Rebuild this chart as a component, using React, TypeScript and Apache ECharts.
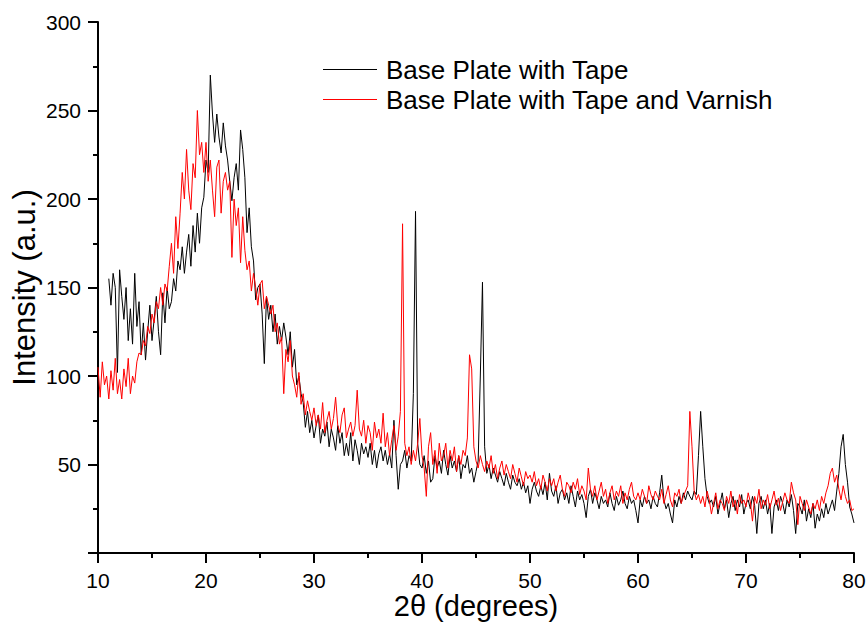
import React, { useEffect, useRef } from "react";
import * as echarts from "echarts";

const xStep = 0.2;
const redStart = 10.0;
const blackStart = 11.0;

const seriesNames = ["Base Plate with Tape", "Base Plate with Tape and Varnish"];

const xTicks = [10, 20, 30, 40, 50, 60, 70, 80];
const yTicks = [50, 100, 150, 200, 250, 300];

// Base Plate with Tape (black), 11.0 .. 80.0 step 0.2
const blackValues = [
  155, 140, 158, 150, 102, 160, 145, 132, 150, 120,
  138, 118, 158, 128, 142, 112, 130, 109, 125, 140,
  120, 132, 145, 125, 112, 147, 130, 150, 138, 142,
  155, 148, 165, 160, 173, 158, 170, 180, 162, 185,
  170, 192, 175, 195, 201, 222, 215, 270, 248, 232,
  248, 235, 226, 243, 230, 222, 210, 199, 212, 220,
  205, 239, 228, 212, 181, 195, 173, 165, 143, 150,
  152, 135, 107, 145, 132, 140, 125, 135, 118, 128,
  120, 130, 122, 112, 125, 105, 115, 95, 100, 90,
  85, 71, 80, 68, 75, 65, 72, 78, 62, 70,
  66, 74, 60, 70, 65, 58, 72, 62, 68, 55,
  62, 55, 68, 52, 64, 58, 50, 62, 56, 60,
  54, 62, 50, 58, 48, 56, 60, 52, 58, 50,
  56, 48, 75, 55, 36, 50, 52, 58, 48, 55,
  52, 90, 193, 62, 50, 48, 55, 45, 52, 40,
  42, 55, 48, 52, 45, 58, 50, 44, 55, 48,
  52, 46, 55, 42, 50, 48, 55, 45, 48, 40,
  46, 52, 100, 153, 60, 45, 50, 42, 48, 44,
  40, 46, 42, 38, 45, 40, 36, 44, 40, 38,
  42, 36, 40, 34, 38, 28, 36, 40, 35, 32,
  38, 33, 40, 30, 45, 35, 32, 38, 28, 34,
  36, 30, 34, 28, 38, 32, 26, 35, 30, 33,
  28, 20, 32, 36, 28, 34, 30, 25, 32, 28,
  30, 26, 34, 28, 24, 32, 27, 30, 35, 28,
  25, 32, 28, 30, 24, 17, 30, 26, 32, 28,
  30, 25, 32, 28, 26, 34, 44, 30, 25, 28,
  22, 17, 30, 26, 32, 28, 34, 30, 35, 32,
  30, 35, 33, 55, 80, 60, 42, 32, 28, 30,
  26, 32, 22, 28, 34, 25, 30, 20, 28, 32,
  24, 30, 26, 33, 22, 28, 30, 25, 32, 27,
  11, 28, 32, 25, 30, 22, 28, 11, 26, 30,
  24, 32, 28, 22, 30, 26, 33, 24, 11, 28,
  26, 22, 30, 18, 25, 20, 28, 14, 22, 18,
  25, 20, 28, 22, 26, 30, 24, 35, 45, 60,
  67, 50, 40, 26, 22, 17,
];

// Base Plate with Tape and Varnish (red), 10.0 .. 80.0 step 0.2
const redValues = [
  105, 88, 108, 95, 100, 87, 103, 92, 110, 90,
  98, 87, 104, 94, 110, 90, 100, 96, 108, 113,
  112, 120, 117, 128, 124, 135, 130, 142, 138, 150,
  140, 152, 148, 162, 175, 158, 190, 172, 192, 215,
  200, 228, 205, 194, 220, 212, 250, 225, 232, 215,
  232, 210, 222, 205, 190, 218, 222, 192, 210, 215,
  205, 210, 167, 200, 185, 195, 164, 190, 171, 160,
  165, 148, 158, 150, 140, 152, 154, 138, 145, 140,
  135, 140, 125, 130, 118, 122, 90, 115, 108, 120,
  100, 95, 88, 102, 84, 90, 78, 86, 80, 75,
  82, 72, 78, 70, 85, 68, 75, 80, 70, 76,
  88, 72, 68, 78, 82, 65, 70, 74, 66, 72,
  92, 70, 66, 75, 62, 72, 68, 58, 74, 65,
  70, 62, 79, 60, 68, 55, 64, 72, 58, 66,
  80, 186, 62, 55, 60, 50, 58, 52, 62, 76,
  55, 48, 32, 60, 68, 50, 58, 45, 62, 52,
  55, 62, 48, 58, 52, 60, 46, 55, 50, 58,
  55, 65, 112, 104, 60, 52, 48, 55, 50, 46,
  52, 48, 55, 45, 50, 42, 48, 52, 44, 50,
  46, 42, 50, 45, 40, 48, 43, 38, 46, 42,
  44, 40, 46, 38, 42, 36, 44, 40, 35, 42,
  38, 42, 35, 40, 44, 36, 32, 40, 38, 34,
  40, 36, 42, 33, 38, 35, 30, 48, 36, 32,
  38, 30, 35, 40, 32, 36, 28, 34, 38, 30,
  35, 32, 38, 28, 34, 30, 36, 40, 32, 30,
  34, 30, 36, 32, 28, 38, 33, 30, 35, 32,
  30, 36, 28, 33, 38, 30, 26, 34, 32, 36,
  28, 32, 35, 38, 80, 60, 35, 30, 33, 28,
  32, 26, 35, 30, 22, 28, 34, 25, 30, 28,
  24, 32, 28, 35, 26, 30, 22, 33, 28, 30,
  26, 34, 29, 18, 32, 28, 36, 25, 30, 27,
  33, 25, 30, 35, 27, 31, 24, 29, 34, 30,
  28, 40, 34, 30, 16, 32, 28, 24, 30, 26,
  22, 28, 25, 30, 24, 32, 28, 34, 38, 45,
  48, 40, 44, 36, 30, 38, 32, 28, 30, 24,
  25,
];

const toPairs = (start: number, vals: number[]) =>
  vals.map((v, i) => [Math.round((start + i * xStep) * 100) / 100, v]);

const FONT = "'Liberation Sans', Arial, sans-serif";

export default function App() {
  const ref = useRef<HTMLDivElement>(null);
  useEffect(() => {
    if (!ref.current) return;
    const chart = echarts.init(ref.current, undefined, { renderer: "svg" });
    const axisStyle = { color: "#000", width: 2 };
    chart.setOption({
      animation: false,
      backgroundColor: "#fff",
      textStyle: { fontFamily: FONT },
      grid: { left: 98, right: 13, top: 22, bottom: 71, outerBoundsMode: "none", containLabel: false },
      legend: {
        orient: "vertical",
        left: 318,
        top: 50,
        icon: "rect",
        itemWidth: 54,
        itemHeight: 1,
        itemGap: 1,
        textStyle: { fontFamily: FONT, fontSize: 26, color: "#000", padding: [0, 0, 0, 4], lineHeight: 29 },
        data: seriesNames,
      },
      xAxis: {
        type: "value",
        min: xTicks[0],
        max: xTicks[xTicks.length - 1],
        interval: 10,
        name: "2θ (degrees)",
        nameLocation: "middle",
        nameMoveOverlap: false,
        nameGap: 38,
        nameTextStyle: { fontFamily: FONT, fontSize: 29, color: "#000", lineHeight: 30 },
        axisLine: { show: true, lineStyle: axisStyle },
        axisTick: { show: true, inside: false, length: 10, lineStyle: axisStyle },
        minorTick: { show: true, splitNumber: 2, length: 5, lineStyle: axisStyle },
        axisLabel: { fontFamily: FONT, fontSize: 21, color: "#000", margin: 17 },
        splitLine: { show: false },
      },
      yAxis: {
        type: "value",
        min: 0,
        max: yTicks[yTicks.length - 1],
        interval: 50,
        name: "Intensity (a.u.)",
        nameLocation: "middle",
        nameMoveOverlap: false,
        nameGap: 58,
        nameTextStyle: { fontFamily: FONT, fontSize: 31, color: "#000" },
        axisLine: { show: true, lineStyle: axisStyle },
        axisTick: { show: true, inside: false, length: 10, lineStyle: axisStyle },
        minorTick: { show: true, splitNumber: 2, length: 5, lineStyle: axisStyle },
        axisLabel: {
          fontFamily: FONT,
          fontSize: 21,
          color: "#000",
          margin: 17,
          formatter: (v: number) => (yTicks.includes(v) ? String(v) : ""),
        },
        splitLine: { show: false },
      },
      series: [
        {
          name: seriesNames[0],
          type: "line",
          data: toPairs(blackStart, blackValues),
          symbol: "none",
          lineStyle: { color: "#000000", width: 1 },
          itemStyle: { color: "#000000" },
        },
        {
          name: seriesNames[1],
          type: "line",
          data: toPairs(redStart, redValues),
          symbol: "none",
          lineStyle: { color: "#ff0000", width: 1 },
          itemStyle: { color: "#ff0000" },
        },
      ],
    });
    return () => chart.dispose();
  }, []);
  return (
    <div
      ref={ref}
      style={{ position: "absolute", left: 0, top: 0, width: 867, height: 624, background: "#fff" }}
    />
  );
}
